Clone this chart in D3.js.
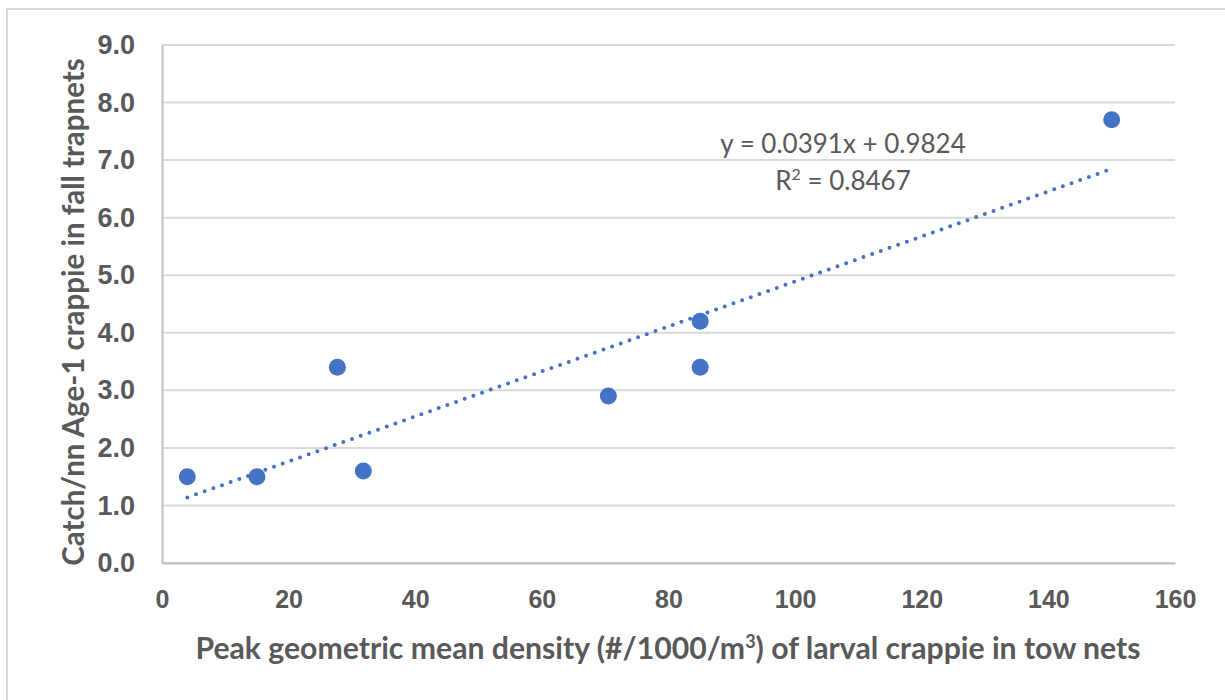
<!DOCTYPE html>
<html>
<head>
<meta charset="utf-8">
<style>
body { margin: 0; background: #fff; }
svg { display: block; font-family: Lato, "Open Sans", sans-serif; }
.tick text { fill: #595959; font-weight: bold; }
.grid line { stroke: #d9d9d9; stroke-width: 2; }
.title { fill: #595959; font-weight: bold; font-size: 29.5px; }
.eq { fill: #595959; font-size: 26px; }
</style>
</head>
<body>
<svg width="1225" height="700"></svg>
<script src="https://d3js.org/d3.v7.min.js"></script>
<script>
// larval density vs. fall trapnet catch
var density = [4, 15, 27.7, 31.8, 70.5, 85, 85, 150];
var catchRate = [1.5, 1.5, 3.4, 1.6, 2.9, 4.2, 3.4, 7.7];
var xTicks = [0, 20, 40, 60, 80, 100, 120, 140, 160];
var yTicks = [0, 1, 2, 3, 4, 5, 6, 7, 8, 9];
// trendline as printed on the chart
var slope = 0.0391, intercept = 0.9824;

var svg = d3.select("svg");
var margin = {left: 162, right: 50, top: 45, bottom: 137};
var width = 1225 - margin.left - margin.right,
    height = 700 - margin.top - margin.bottom;

// outer frame (only top and left edges show)
svg.append("path")
    .attr("d", "M7,700V9H1225")
    .attr("fill", "none")
    .attr("stroke", "#d9d9d9")
    .attr("stroke-width", 2);

var g = svg.append("g").attr("transform", "translate(" + margin.left + "," + margin.top + ")");

var x = d3.scaleLinear().domain([0, 160]).range([0, width]);
var y = d3.scaleLinear().domain([0, 9]).range([height, 0]);

// gridlines
g.append("g")
    .attr("class", "grid")
  .selectAll("line")
  .data(yTicks)
  .enter().append("line")
    .attr("x1", 0).attr("x2", width)
    .attr("y1", d => y(d)).attr("y2", d => y(d));

// axes
var yAxis = g.append("g")
    .call(d3.axisLeft(y).tickValues(yTicks).tickFormat(d3.format(".1f")).tickSize(0).tickPadding(27));
yAxis.selectAll(".tick text").attr("font-size", "27px");
yAxis.select(".domain").attr("stroke", "#bfbfbf").attr("stroke-width", 2);

var xAxis = g.append("g")
    .attr("transform", "translate(0," + height + ")")
    .call(d3.axisBottom(x).tickValues(xTicks).tickSize(0).tickPadding(27));
xAxis.selectAll(".tick text").attr("font-size", "25px");
xAxis.select(".domain").attr("stroke", "#bfbfbf").attr("stroke-width", 2);

// trendline
var xMin = d3.min(density), xMax = d3.max(density);
g.append("line")
    .attr("x1", x(xMin)).attr("y1", y(slope * xMin + intercept))
    .attr("x2", x(xMax)).attr("y2", y(slope * xMax + intercept))
    .attr("stroke", "#4472c4")
    .attr("stroke-width", 4)
    .attr("stroke-linecap", "round")
    .attr("stroke-dasharray", "0 9.2");

// points
g.selectAll("circle")
  .data(density)
  .enter().append("circle")
    .attr("cx", d => x(d))
    .attr("cy", (d, i) => y(catchRate[i]))
    .attr("r", 8.5)
    .attr("fill", "#4472c4");

// equation label
g.append("text")
    .attr("class", "eq")
    .attr("x", 681).attr("y", 108)
    .attr("text-anchor", "middle")
    .text("y = 0.0391x + 0.9824");
var r2 = g.append("text")
    .attr("class", "eq")
    .attr("x", 681).attr("y", 145)
    .attr("text-anchor", "middle");
r2.append("tspan").text("R");
r2.append("tspan").attr("dy", -10).attr("font-size", "16px").text("2");
r2.append("tspan").attr("dy", 10).text(" = 0.8467");

// axis titles
svg.append("text")
    .attr("class", "title")
    .attr("transform", "translate(84,312) rotate(-90)")
    .attr("text-anchor", "middle")
    .text("Catch/nn Age-1 crappie in fall trapnets");

var xt = svg.append("text")
    .attr("class", "title")
    .attr("x", 668).attr("y", 659)
    .style("font-size", "30.2px")
    .attr("text-anchor", "middle");
xt.append("tspan").text("Peak geometric mean density (#/1000/m");
xt.append("tspan").attr("dy", -11).style("font-size", "18px").text("3");
xt.append("tspan").attr("dy", 11).text(") of larval crappie in tow nets");
</script>
</body>
</html>
